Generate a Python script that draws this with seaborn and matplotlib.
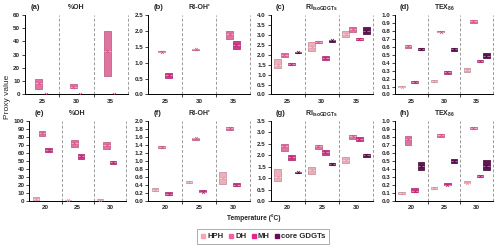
'''Grid of box charts: GDGT proxy values vs temperature.'''

import pandas as pd
import matplotlib.pyplot as plt
from matplotlib.lines import Line2D
import seaborn as sns

sns.set_theme(style="white")
plt.rcParams['font.family'] = ['Liberation Sans', 'DejaVu Sans']
plt.rcParams['font.weight'] = 'bold'
plt.rcParams['mathtext.default'] = 'regular'

series = ['HPH', 'DH', 'MH', 'core GDGTs']
colors = ['#F6A5B6', '#F2629E', '#E2278C', '#6C0B5B']
edges = ['#EE8EA2', '#E04A88', '#C81876', '#50043F']

temps_top = ['25', '30', '35']
temps_bot = ['20', '25', '30']

# per panel: one list per series (HPH, DH, MH, core), one value per temperature
# (a) %OH, top
a_lo = [[None, None, None], [4.5, 5.0, 14.0], [0.0, 0.0, 0.0], [None, None, None]]
a_hi = [[None, None, None], [11.5, 7.8, 48.0], [0.4, 0.4, 0.4], [None, None, None]]
a_mean = [[None, None, None], [9.0, 6.0, 33.0], [0.2, 0.2, 0.2], [None, None, None]]
# (b) RI-OH', top
b_lo = [[None, None, None], [1.33, 1.40, 1.74], [0.51, None, 1.44], [None, None, None]]
b_hi = [[None, None, None], [1.37, 1.44, 2.00], [0.68, None, 1.68], [None, None, None]]
b_mean = [[None, None, None], [1.35, 1.42, 1.90], [0.60, None, 1.57], [None, None, None]]
# (c) RI isoGDGTs, top
c_lo = [[1.33, 2.21, 2.88], [1.88, 2.58, 3.13], [1.48, 1.74, 2.73], [2.10, 2.66, 3.02]]
c_hi = [[1.78, 2.66, 3.20], [2.08, 2.68, 3.42], [1.58, 1.96, 2.86], [2.15, 2.76, 3.39]]
c_mean = [[1.50, 2.40, 3.03], [1.97, 2.63, 3.30], [1.53, 1.85, 2.80], [2.12, 2.72, 3.20]]
# (d) TEX86, top
d_lo = [[0.088, 0.155, 0.285], [0.59, 0.78, 0.90], [0.143, 0.26, 0.406], [0.56, 0.55, 0.457]]
d_hi = [[0.105, 0.184, 0.335], [0.62, 0.80, 0.94], [0.168, 0.30, 0.44], [0.59, 0.59, 0.527]]
d_mean = [[0.097, 0.168, 0.31], [0.605, 0.79, 0.92], [0.155, 0.28, 0.42], [0.575, 0.57, 0.49]]
# (e) %OH, bottom
e_lo = [[0.5, 0.5, 0.8], [81.3, 66.8, 64.7], [61.4, 52.3, 46.1], [None, None, None]]
e_hi = [[5.0, 1.5, 2.0], [87.2, 76.3, 73.8], [66.4, 58.9, 49.8], [None, None, None]]
e_mean = [[2.0, 1.0, 1.4], [85.0, 72.0, 70.0], [64.0, 56.0, 48.0], [None, None, None]]
# (f) RI-OH', bottom
f_lo = [[0.256, 0.445, 0.43], [1.31, 1.52, 1.78], [0.158, 0.215, 0.37], [None, None, None]]
f_hi = [[0.32, 0.51, 0.716], [1.37, 1.57, 1.84], [0.215, 0.27, 0.445], [None, None, None]]
f_mean = [[0.285, 0.48, 0.57], [1.35, 1.56, 1.82], [0.175, 0.23, 0.40], [None, None, None]]
# (g) RI isoGDGTs, bottom
g_lo = [[0.88, 1.19, 1.67], [2.19, 2.28, 2.71], [1.80, 2.00, 2.63], [1.20, 1.56, 1.93]]
g_hi = [[1.40, 1.50, 1.90], [2.48, 2.45, 2.87], [2.00, 2.22, 2.77], [1.28, 1.67, 2.05]]
g_mean = [[1.05, 1.35, 1.80], [2.38, 2.40, 2.82], [1.92, 2.13, 2.70], [1.25, 1.62, 2.00]]
# (h) TEX86, bottom
h_lo = [[0.083, 0.153, 0.218], [0.70, 0.795, 0.90], [0.107, 0.194, 0.293], [0.39, 0.478, 0.38]]
h_hi = [[0.115, 0.18, 0.247], [0.81, 0.83, 0.92], [0.16, 0.218, 0.326], [0.486, 0.523, 0.51]]
h_mean = [[0.095, 0.165, 0.23], [0.77, 0.82, 0.915], [0.125, 0.205, 0.31], [0.44, 0.50, 0.44]]

titles = ['%OH', "RI-OH'", r'RI$_{isoGDGTs}$', r'TEX$_{86}$']
letters = ['(a)', '(b)', '(c)', '(d)', '(e)', '(f)', '(g)', '(h)']
ylims = [(0, 60, 10), (0, 2.5, 0.5), (0, 4.0, 0.5), (0, 1.0, 0.1),
         (0, 100, 10), (0, 2.0, 0.2), (0, 3.5, 0.5), (0, 1.0, 0.1)]
yfmts = ['{:.0f}', '{:.1f}', '{:.1f}', '{:.1f}', '{:.0f}', '{:.1f}', '{:.1f}', '{:.1f}']

panels = [(a_lo, a_hi, a_mean), (b_lo, b_hi, b_mean), (c_lo, c_hi, c_mean), (d_lo, d_hi, d_mean),
          (e_lo, e_hi, e_mean), (f_lo, f_hi, f_mean), (g_lo, g_hi, g_mean), (h_lo, h_hi, h_mean)]


def build(lo, hi, mean, temps):
    box_rows, mean_rows = [], []
    for s, name in enumerate(series):
        for t, temp in enumerate(temps):
            if lo[s][t] is None:
                continue
            # five points -> Q1 = lo, median = mean, Q3 = hi
            for v in [lo[s][t], lo[s][t], mean[s][t], hi[s][t], hi[s][t]]:
                box_rows.append({'temp': temp, 'series': name, 'value': v})
            mean_rows.append({'temp': temp, 'series': name, 'value': mean[s][t]})
    return pd.DataFrame(box_rows), pd.DataFrame(mean_rows)


fig = plt.figure(figsize=(5.0, 2.49), dpi=100)
lefts = [0.050, 0.2966, 0.5414, 0.790]
widths = [0.206, 0.2034, 0.2046, 0.196]
pal = dict(zip(series, colors))
pal_edge = dict(zip(series, edges))

for i, (lo, hi, mean) in enumerate(panels):
    row, col = divmod(i, 4)
    temps = temps_top if row == 0 else temps_bot
    if row == 0:
        rect = [lefts[col], 0.6205, widths[col], 0.3193]
    else:
        l = 0.0586 if col == 0 else lefts[col]
        w = 0.1934 if col == 0 else widths[col]
        rect = [l, 0.1928, w, 0.3225]
    ax = fig.add_axes(rect)
    box_df, mean_df = build(lo, hi, mean, temps)

    sns.boxplot(data=box_df, x='temp', y='value', hue='series', order=temps,
                hue_order=series, palette=pal, dodge=True, width=0.8, whis=0,
                showcaps=False, showfliers=False, linewidth=0.6, legend=False,
                medianprops={'color': 'white', 'alpha': 0.45, 'linewidth': 0.6},
                whiskerprops={'linewidth': 0}, ax=ax)
    for patch in ax.patches:
        fc = patch.get_facecolor()
        patch.set_edgecolor(tuple(max(c * 0.85, 0) for c in fc[:3]) + (1,))
    sns.stripplot(data=mean_df, x='temp', y='value', hue='series', order=temps,
                  hue_order=series, palette=pal_edge, dodge=True, jitter=False,
                  marker='x', size=2.2, linewidth=0.5, legend=False, ax=ax)

    y0, y1, step = ylims[i]
    n = int(round((y1 - y0) / step))
    yt = [y0 + k * step for k in range(n + 1)]
    ax.set_ylim(y0, y1)
    ax.set_yticks(yt)
    ax.set_yticklabels([yfmts[i].format(v) for v in yt], fontsize=4.5, fontweight='bold')
    ax.set_xlim(-0.5, 2.5)
    ax.set_xticks(range(3))
    ax.set_xticklabels(temps, fontsize=4.5, fontweight='bold')
    ax.tick_params(axis='x', length=0, pad=3)
    ax.tick_params(axis='y', length=2, width=0.6, pad=1.5, left=True)
    ax.set_xticks([0.5, 1.5], minor=True)
    ax.tick_params(axis='x', which='minor', length=2, width=0.6, bottom=True)
    for xv in [0.5, 1.5, 2.5]:
        ax.axvline(xv, color='#9a9a9a', linestyle=(0, (3, 2)), linewidth=0.7,
                   zorder=0, clip_on=False)
    ax.set_xlabel('')
    ax.set_ylabel('')
    for side in ['top', 'right']:
        ax.spines[side].set_visible(False)
    for side in ['left', 'bottom']:
        ax.spines[side].set_color('black')
        ax.spines[side].set_linewidth(0.7)
    ax.text(0.05, 1.09, letters[i], transform=ax.transAxes, fontsize=5.5,
            fontweight='bold', va='center', ha='left')
    ax.text(0.5, 1.09, titles[col], transform=ax.transAxes, fontsize=5,
            fontweight='bold', va='center', ha='center')

fig.text(0.016, 0.61, 'Proxy value', rotation=90, fontsize=6, va='center', ha='center',
         fontweight='normal')
fig.text(0.507, 0.126, 'Temperature (°C)', fontsize=4.8, fontweight='bold',
         va='center', ha='center')

handles = [Line2D([], [], marker='s', linestyle='', markersize=3.3, color=c,
                  markeredgecolor=c) for c in colors]
leg = fig.legend(handles, series, loc='center', bbox_to_anchor=(0.526, 0.05), ncol=4,
                 fontsize=5.6, frameon=True, handletextpad=0.1, columnspacing=0.6,
                 borderpad=0.45, handlelength=0.8, fancybox=False)
leg.get_frame().set_edgecolor('#888888')
leg.get_frame().set_linewidth(0.6)
for t in leg.get_texts():
    t.set_fontweight('bold')

fig.savefig('out.png', dpi=100)
